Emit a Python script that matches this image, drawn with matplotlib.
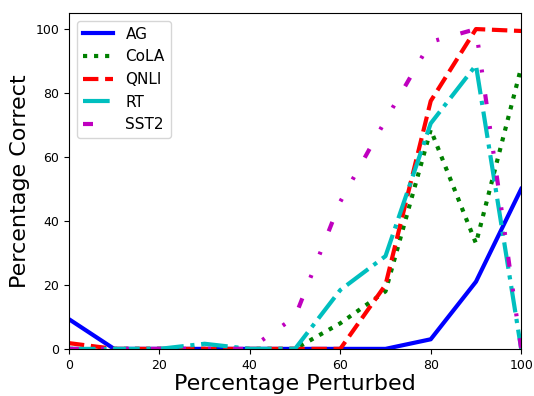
import matplotlib
matplotlib.use("Agg")
import matplotlib.pyplot as plt

pct = [0, 10, 20, 30, 40, 50, 60, 70, 80, 90, 100]
ag = [9.3, 0, 0, 0, 0, 0, 0, 0, 3, 21, 50]
cola = [0, 0, 0, 0, 0, 0, 8, 18, 68.5, 33, 88]
qnli = [1.8, 0, 0, 0, 0, 0, 0, 20, 77.5, 100, 99.4]
rt = [0, 0, 0, 1.6, 0, 0, 18.4, 29, 70.5, 88.7, 0]
sst2 = [0, 0, 0, 0, 0, 10, 46, 71.5, 96, 100, 0]

fig = plt.figure(figsize=(5.34, 3.96), dpi=100)
ax = fig.add_axes([0.129, 0.119, 0.847, 0.848])

ax.plot(pct, ag, "b-", lw=3, label="AG")
ax.plot(pct, cola, "g:", lw=3, label="CoLA")
ax.plot(pct, qnli, "r--", lw=3, label="QNLI")
ax.plot(pct, rt, "c-.", lw=3, label="RT")
# dash-dot-dot with wide gaps
ax.plot(pct, sst2, "m", ls=(0, (2.4, 5.3, 0.7, 5.3, 0.7, 5.3)), lw=3, label="SST2")

ax.set_xlim(0, 100)
ax.set_ylim(0, 105)
ax.set_xticks([0, 20, 40, 60, 80, 100])
ax.set_yticks([0, 20, 40, 60, 80, 100])
ax.tick_params(labelsize=9)
ax.set_xlabel("Percentage Perturbed", fontsize=16, labelpad=2)
ax.set_ylabel("Percentage Correct", fontsize=16)
ax.legend(loc="upper left", fontsize=11)

fig.savefig("out.png", dpi=100)
